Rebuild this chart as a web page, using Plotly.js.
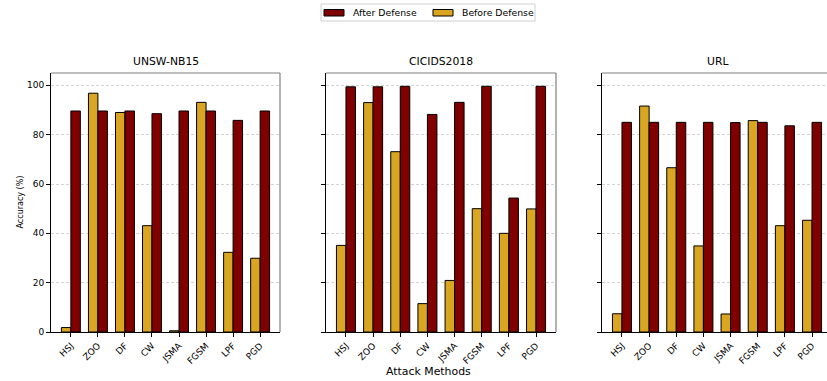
<!DOCTYPE html>
<html>
<head>
<meta charset="utf-8">
<script src="https://cdn.plot.ly/plotly-3.0.1.min.js"></script>
<style>
  html, body { margin: 0; padding: 0; overflow: hidden; background: #fff; }
  #chart { width: 832px; height: 381px; }
</style>
</head>
<body>
<div id="chart"></div>
<script>
// Attack methods on the x axis of every panel
const attacks = ["HSJ", "ZOO", "DF", "CW", "JSMA", "FGSM", "LPF", "PGD"];
const datasets = ["UNSW-NB15", "CICIDS2018", "URL"];
const seriesNames = ["After Defense", "Before Defense"];

// Accuracy (%) before and after the defense, per dataset
const unswBefore = [1.8, 96.8, 89.0, 43.1, 0.5, 93.1, 32.3, 29.9];
const unswAfter  = [89.6, 89.6, 89.6, 88.5, 89.6, 89.6, 85.8, 89.6];
const cicBefore  = [35.1, 93.0, 73.1, 11.5, 20.9, 50.0, 40.0, 49.9];
const cicAfter   = [99.4, 99.4, 99.6, 88.2, 93.1, 99.6, 54.3, 99.6];
const urlBefore  = [7.4, 91.6, 66.6, 34.9, 7.3, 85.7, 43.1, 45.3];
const urlAfter   = [85.0, 85.0, 85.0, 85.0, 84.9, 85.0, 83.6, 85.0];

const beforeSeries = [unswBefore, cicBefore, urlBefore];
const afterSeries  = [unswAfter, cicAfter, urlAfter];

const GOLD = "#DAA520";
const MAROON = "#800000";
const FONT = "DejaVu Sans, sans-serif";

const traces = [];
datasets.forEach((name, i) => {
  const xa = i === 0 ? "x" : "x" + (i + 1);
  const ya = i === 0 ? "y" : "y" + (i + 1);
  traces.push({
    type: "bar", name: seriesNames[1], x: attacks, y: beforeSeries[i],
    xaxis: xa, yaxis: ya, showlegend: false,
    marker: { color: GOLD, line: { color: "#000", width: 1 } }
  });
  traces.push({
    type: "bar", name: seriesNames[0], x: attacks, y: afterSeries[i],
    xaxis: xa, yaxis: ya, showlegend: false,
    marker: { color: MAROON, line: { color: "#000", width: 1 } }
  });
});

// pixel helpers for the page geometry
const W = 832, H = 381, ML = 51, MT = 73, MB = 49;
const PW = W - ML, PH = H - MT - MB;
const px = v => (v - ML) / PW;
const py = v => (H - MB - v) / PH;
const domains = [[px(51), px(280)], [px(326), px(556)], [px(602), 1]];

const layout = {
  width: W, height: H,
  margin: { l: ML, r: 0, t: MT, b: MB },
  paper_bgcolor: "#fff", plot_bgcolor: "#fff",
  font: { family: FONT, size: 9, color: "#000" },
  barmode: "group", bargap: 0.3, bargroupgap: 0,
  showlegend: false,
  annotations: [],
  shapes: []
};

datasets.forEach((name, i) => {
  const sx = i === 0 ? "" : String(i + 1);
  layout["xaxis" + sx] = {
    domain: domains[i], anchor: "y" + sx, type: "category",
    range: [-0.735, 7.735], showgrid: false, zeroline: false,
    showline: true, linecolor: "#000", linewidth: 1,
    ticks: "outside", ticklen: 4, tickcolor: "#000", tickangle: -45,
    tickfont: { family: FONT, size: 9, color: "#000" }
  };
  layout["yaxis" + sx] = {
    domain: [0, 1], anchor: "x" + sx, range: [0, 105],
    tickvals: [0, 20, 40, 60, 80, 100], showticklabels: i === 0,
    showgrid: true, gridcolor: "#c8c8c8", griddash: "3px,2px", gridwidth: 0.8,
    zeroline: false, showline: true, linecolor: "#000", linewidth: 1,
    ticks: "outside", ticklen: 4, tickcolor: "#000",
    tickfont: { family: FONT, size: 9, color: "#000" }
  };
  // top and right frame edges in grey
  layout.shapes.push({
    type: "line", xref: "x" + sx + " domain", yref: "y" + sx + " domain",
    x0: 0, x1: 1, y0: 1, y1: 1, line: { color: "#808080", width: 1.2 }
  });
  layout.shapes.push({
    type: "line", xref: "x" + sx + " domain", yref: "y" + sx + " domain",
    x0: 1, x1: 1, y0: 0, y1: 1, line: { color: "#808080", width: 1.2 }
  });
  layout.annotations.push({
    text: name, xref: "x" + sx + " domain", yref: "y" + sx + " domain",
    x: 0.5, y: 1, yshift: 3, xanchor: "center", yanchor: "bottom",
    showarrow: false, font: { family: FONT, size: 10.8, color: "#000" }
  });
});

// y axis label
layout.annotations.push({
  text: "Accuracy (%)", xref: "paper", yref: "paper",
  x: px(20), y: 0.5, xanchor: "center", yanchor: "middle", textangle: -90,
  showarrow: false, font: { family: FONT, size: 8, color: "#000" }
});

// shared x axis label
layout.annotations.push({
  text: "Attack Methods", xref: "paper", yref: "paper",
  x: px(428), y: py(371), xanchor: "center", yanchor: "middle",
  showarrow: false, font: { family: FONT, size: 10.9, color: "#000" }
});

// legend: framed box with wide colour patches
layout.shapes.push({
  type: "rect", xref: "paper", yref: "paper",
  x0: px(321), x1: px(535), y0: py(21), y1: py(4),
  line: { color: "#d0d0d0", width: 1 }, fillcolor: "#fff"
});
const legendItems = [
  { name: seriesNames[0], color: MAROON, x: 324 },
  { name: seriesNames[1], color: GOLD, x: 433 }
];
legendItems.forEach(it => {
  layout.shapes.push({
    type: "rect", xref: "paper", yref: "paper",
    x0: px(it.x), x1: px(it.x + 20), y0: py(16), y1: py(9.5),
    line: { color: "#000", width: 1 }, fillcolor: it.color
  });
  layout.annotations.push({
    text: it.name, xref: "paper", yref: "paper",
    x: px(it.x + 27), y: py(12.8), xanchor: "left", yanchor: "middle",
    showarrow: false, font: { family: FONT, size: 9.3, color: "#000" }
  });
});

Plotly.newPlot("chart", traces, layout, { displayModeBar: false, staticPlot: true });
</script>
</body>
</html>
